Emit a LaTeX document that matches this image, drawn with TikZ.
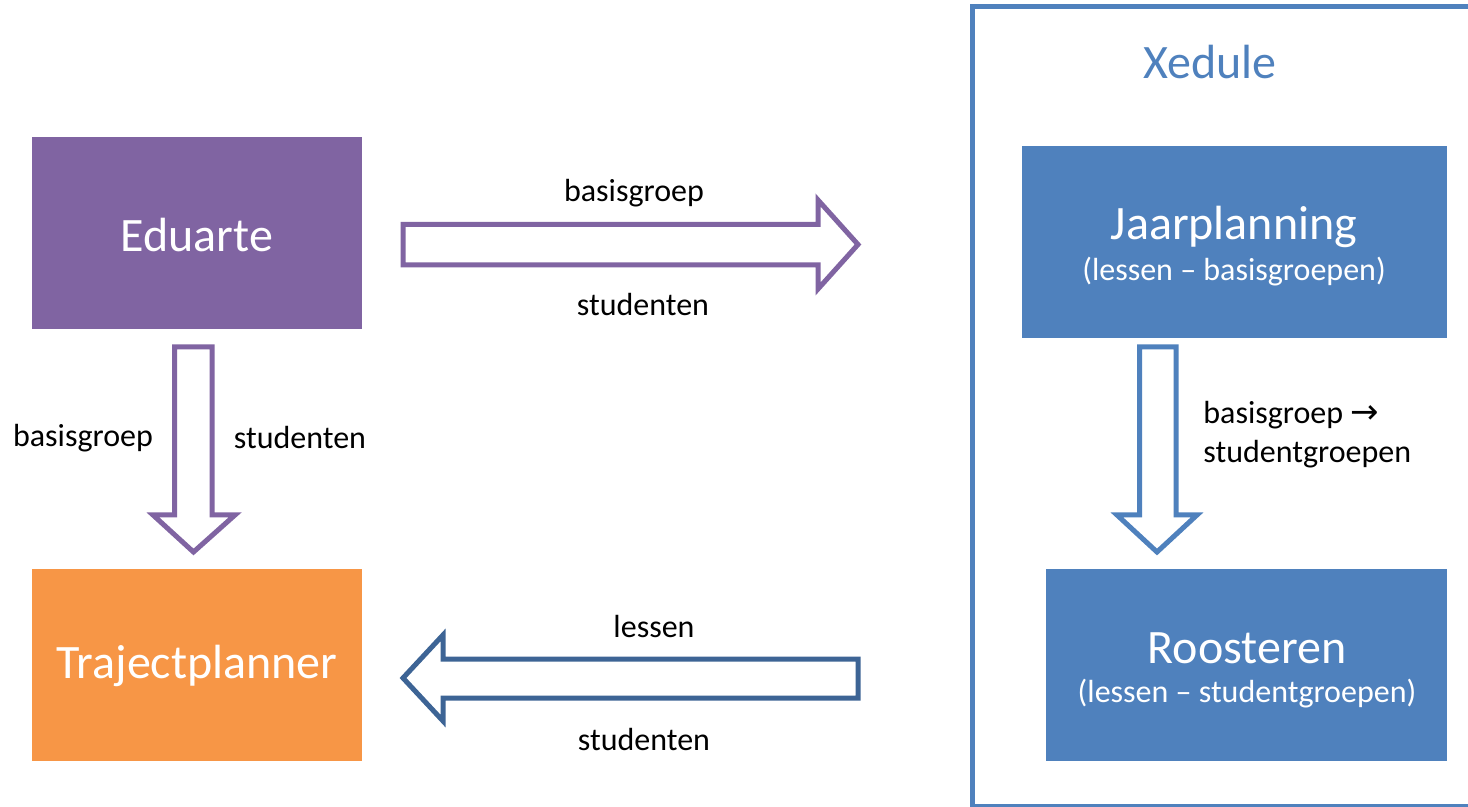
\documentclass[tikz,border=0pt]{standalone}
\usepackage{fontspec}
\setmainfont{Carlito}
\newfontfamily\symfont{DejaVu Sans}
\definecolor{cpurple}{HTML}{8064A2}
\definecolor{corange}{HTML}{F79646}
\definecolor{cblue}{HTML}{4F81BD}
\definecolor{cdblue}{HTML}{3D6495}
\tikzset{
  box/.style={fill=#1, draw=none, text=white, font=\fontsize{24}{28}\selectfont, align=center, inner sep=0pt},
  sub/.style={text=white, font=\fontsize{16}{19}\selectfont, inner sep=0pt},
  lbl/.style={text=black, font=\fontsize{16}{19}\selectfont, inner sep=0pt, align=left},
  blockarrow/.style={draw=#1, fill=white, line width=2.5pt, line join=miter},
}
\begin{document}
\begin{tikzpicture}[x=0.5pt,y=-0.5pt]
\useasboundingbox (0,0) rectangle (1468,807);
\clip (0,0) rectangle (1468,807);
% Xedule frame
\draw[cblue, line width=2.5pt] (1480,7) -- (972.5,7) -- (972.5,806.5) -- (1480,806.5);
\node[text=cblue, font=\fontsize{24}{28}\selectfont, inner sep=0pt] (xed) at (1210,62) {Xedule};
% boxes
\path[fill=cpurple] (32,137) rectangle (362,329);
\node[box=cpurple] (edu) at (197,235) {Eduarte};
\path[fill=corange] (32,569) rectangle (362,761);
\node[box=corange] (tp) at (197,666) {Trajectplanner};
\path[fill=cblue] (1022,146) rectangle (1447,338);
\node[box=cblue] (jp) at (1234,227) {Jaarplanning};
\node[sub] (jps) at (1234,272) {(lessen – basisgroepen)};
\path[fill=cblue] (1046,569) rectangle (1447,761);
\node[box=cblue] (ro) at (1247,648) {Roosteren};
\node[sub] (ros) at (1247,694) {(lessen – studentgroepen)};
% right arrow
\draw[blockarrow=cpurple] (403,224.5) -- (818,224.5) -- (818,200) -- (858,244.5) -- (818,289) -- (818,265) -- (403,265) -- cycle;
\node[lbl] (a1) at (634,193) {basisgroep};
\node[lbl] (a2) at (643,305) {studenten};
% left down arrow
\draw[blockarrow=cpurple] (174.5,347) -- (212,347) -- (212,515) -- (235,515) -- (193.5,552) -- (153,515) -- (174.5,515) -- cycle;
\node[lbl] (b1) at (83,438) {basisgroep};
\node[lbl] (b2) at (300,438) {studenten};
% right down arrow
\draw[blockarrow=cblue] (1139.5,347) -- (1176,347) -- (1176,515) -- (1197,515) -- (1157,552) -- (1117,515) -- (1139.5,515) -- cycle;
\node[lbl, anchor=west] (c1) at (1203,415) {basisgroep {\symfont\fontsize{17}{19}\selectfont →}};
\node[lbl, anchor=west] (c2) at (1203,454) {studentgroepen};
% left arrow
\draw[blockarrow=cdblue] (858,659) -- (443,659) -- (443,635) -- (403,678) -- (443,721) -- (443,698) -- (858,698) -- cycle;
\node[lbl] (d1) at (654,627) {lessen};
\node[lbl] (d2) at (644,740) {studenten};
\end{tikzpicture}
\end{document}
